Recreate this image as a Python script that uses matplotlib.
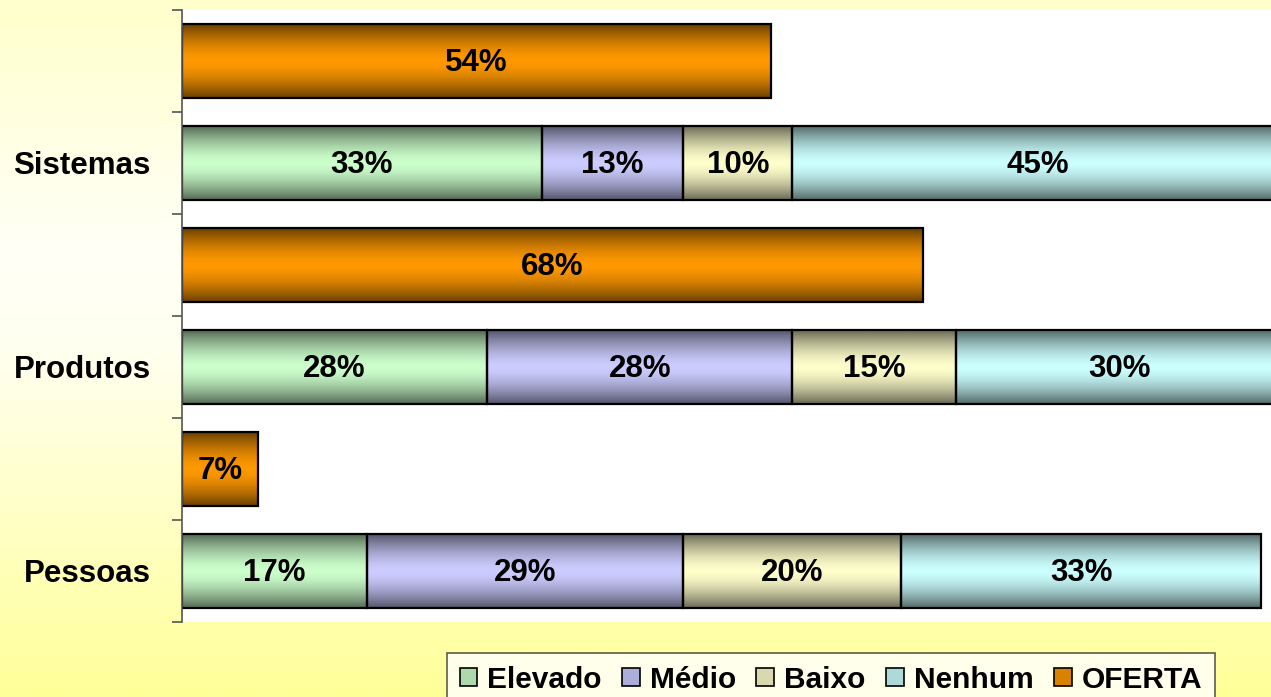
import numpy as np
import matplotlib
matplotlib.use("Agg")
import matplotlib.pyplot as plt
from matplotlib.colors import to_rgb
from matplotlib.patches import Patch

plt.rcParams['font.family'] = ['Liberation Sans', 'DejaVu Sans']
plt.rcParams['font.weight'] = 'bold'

categories = ['Sistemas', 'Produtos', 'Pessoas']
series = ['Elevado', 'Médio', 'Baixo', 'Nenhum']
elevado = [33, 28, 17]
medio = [13, 28, 29]
baixo = [10, 15, 20]
nenhum = [45, 30, 33]
oferta = [54, 68, 7]

colors = {'Elevado': '#CCFFCC', 'Médio': '#CCCCFF', 'Baixo': '#FFFFCC',
          'Nenhum': '#CCFFFF', 'OFERTA': '#FF9900'}


def shade(color, n=64, dark=0.42, p=1.6):
    t = np.linspace(0, 1, n)
    g = 1 - np.abs(2 * t - 1) ** p
    f = dark + (1 - dark) * g
    c = np.array(to_rgb(color))
    return (f[:, None] * c[None, :])[:, None, :]


def fill_gradient(ax, bars, color):
    img = shade(color)
    for b in bars:
        x0, y0 = b.get_x(), b.get_y()
        w, h = b.get_width(), b.get_height()
        im = ax.imshow(img, extent=(x0, x0 + w, y0, y0 + h), aspect='auto',
                       interpolation='bilinear', zorder=1)
        im.set_clip_path(b)


W, H = 1271, 697
fig = plt.figure(figsize=(W / 100, H / 100), dpi=100)

# yellow background gradient
bg = fig.add_axes([0, 0, 1, 1], zorder=-5)
yy = np.linspace(0, 1, 300)
blue = np.interp(yy, [0, 0.35, 0.5, 1.0], [0xCC, 0xF6, 0xF0, 0x99]) / 255
bgimg = np.stack([np.ones_like(yy), np.ones_like(yy), blue], axis=1)[:, None, :]
bg.imshow(bgimg, extent=(0, 1, 1, 0), aspect='auto', interpolation='bilinear')
bg.set_xlim(0, 1)
bg.set_ylim(1, 0)
bg.axis('off')

left = 182 / W
top = 10 / H
bottom = 622 / H
pxper = 10.9
xmax = 101
ax = fig.add_axes([left, 1 - bottom, xmax * pxper / W, bottom - top])
ax.set_facecolor('white')

n = len(categories)
pos_stack = np.arange(n) * 2 + 1
pos_off = np.arange(n) * 2
h = 0.72

left_acc = np.zeros(n)
for name, vals in zip(series, [elevado, medio, baixo, nenhum]):
    vals = np.array(vals, dtype=float)
    bars = ax.barh(pos_stack, vals, left=left_acc, height=h, facecolor='none',
                   edgecolor='black', linewidth=1.6, zorder=2)
    fill_gradient(ax, bars, colors[name])
    for yb, v, l0 in zip(pos_stack, vals, left_acc):
        ax.text(l0 + v / 2, yb + 0.02, f'{v:.0f}%', ha='center', va='center',
                fontsize=22.5, fontweight='bold', zorder=3)
    left_acc += vals

bars = ax.barh(pos_off, oferta, height=h, facecolor='none', edgecolor='black',
               linewidth=1.6, zorder=2)
fill_gradient(ax, bars, colors['OFERTA'])
for yb, v in zip(pos_off, oferta):
    ax.text(v / 2, yb + 0.02, f'{v}%', ha='center', va='center', fontsize=22.5,
            fontweight='bold', zorder=3)

ax.set_xlim(0, xmax)
ax.set_ylim(2 * n - 0.5, -0.5)

for s in ['top', 'right', 'bottom']:
    ax.spines[s].set_visible(False)
ax.spines['left'].set_color('#555555')
ax.spines['left'].set_linewidth(1.2)
ax.set_xticks([])
ax.set_yticks(np.arange(2 * n + 1) - 0.5)
ax.set_yticklabels([])
ax.tick_params(axis='y', which='major', length=7.2, width=1.2, color='#555555')
ax.set_yticks(pos_stack, minor=True)
ax.set_yticklabels(categories, minor=True, fontsize=22.5, fontweight='bold')
ax.tick_params(axis='y', which='minor', length=0, pad=22.5)

handles = [Patch(facecolor=np.array(to_rgb(colors[k])) * 0.85, edgecolor='black',
                 linewidth=1.2) for k in series + ['OFERTA']]
leg = fig.legend(handles, series + ['OFERTA'], ncol=5, loc='upper left',
                 bbox_to_anchor=(447 / W, 1 - 653 / H), borderaxespad=0,
                 prop={'size': 21.5, 'weight': 'bold'}, handlelength=0.6,
                 handleheight=0.6, handletextpad=0.33, columnspacing=0.68,
                 borderpad=0.42, fancybox=False, frameon=True)
leg.get_frame().set_edgecolor('#333333')
leg.get_frame().set_linewidth(1.2)
leg.get_frame().set_facecolor('white')

fig.savefig('out.png', dpi=100)
